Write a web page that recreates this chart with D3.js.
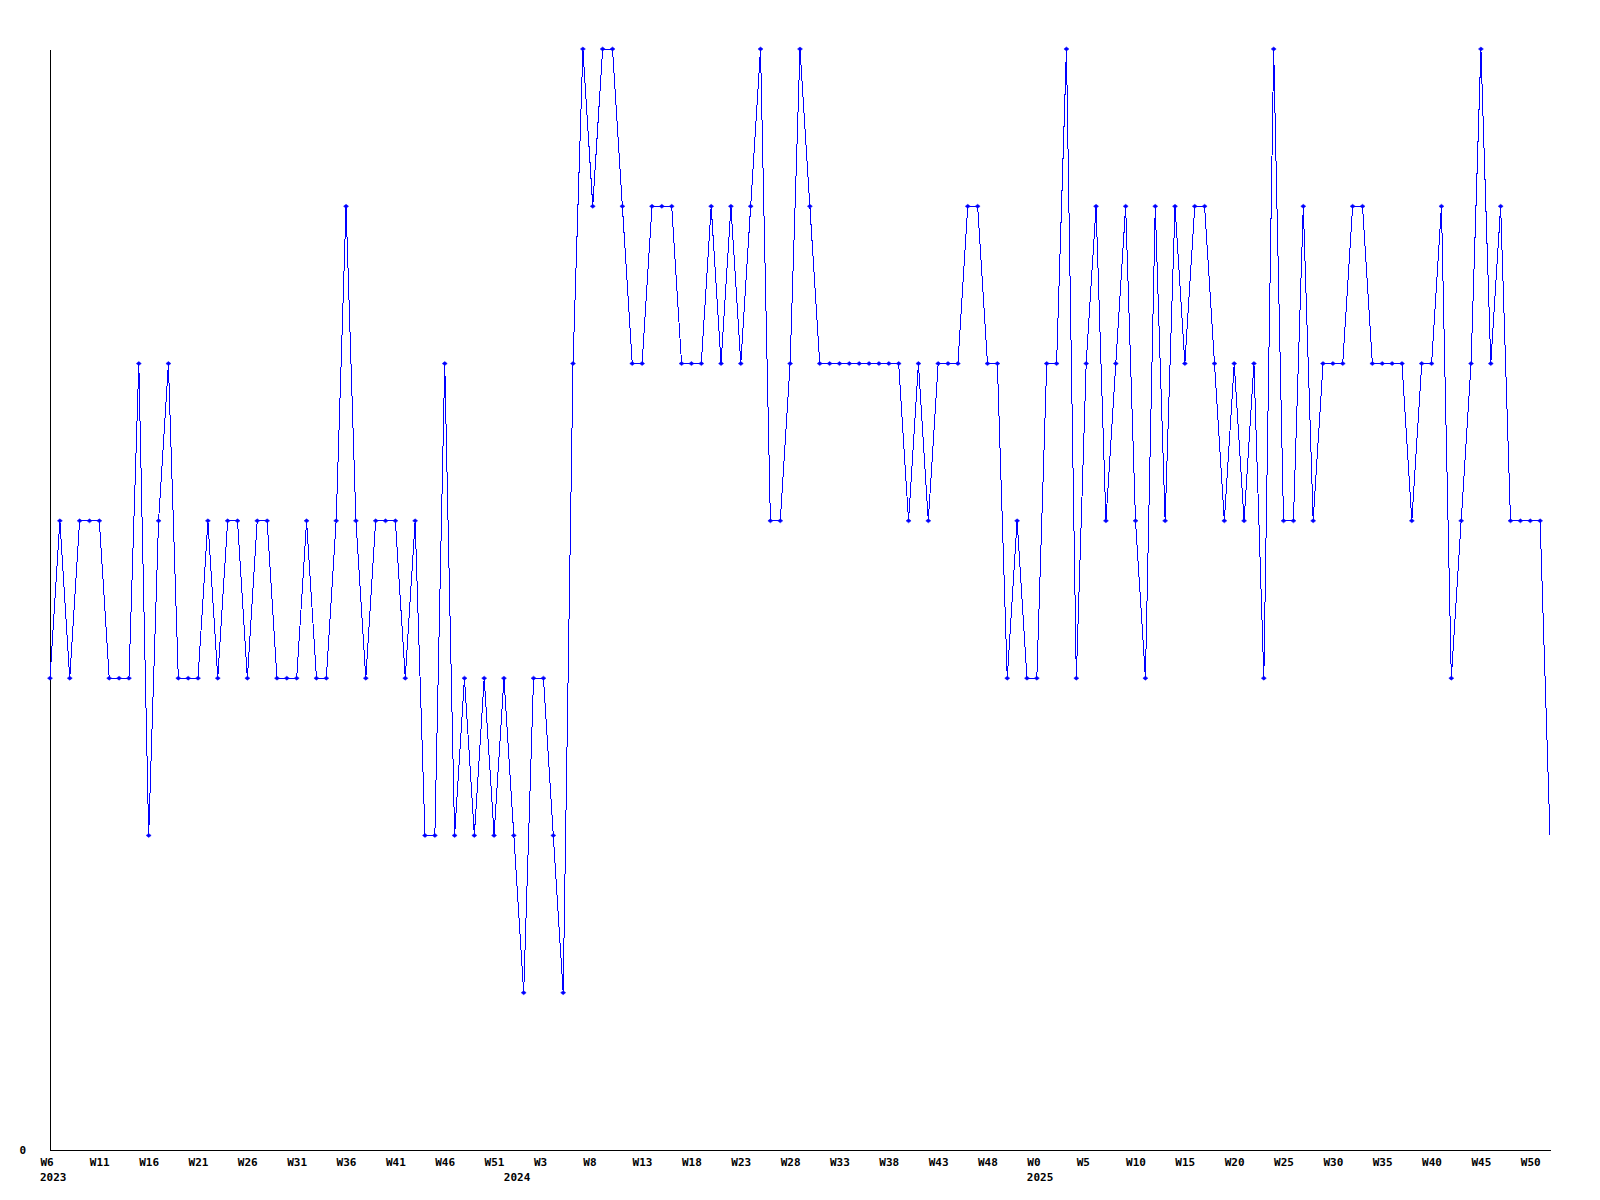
<!DOCTYPE html>
<html>
<head>
<meta charset="utf-8">
<script src="https://cdn.jsdelivr.net/npm/d3@7"></script>
<style>
  html, body { margin: 0; padding: 0; background: #fff; }
  svg { display: block; }
  .axis text { font-family: "DejaVu Sans Mono", monospace; font-weight: bold; font-size: 11px; fill: #000; }
</style>
</head>
<body>
<div id="chart"></div>
<script>
// weekly values, one array per year
const years = [2023, 2024, 2025];
const firstWeek = [6, 0, 0];
const values2023 = [3, 4, 3, 4, 4, 4, 3, 3, 3, 5, 2, 4, 5, 3, 3, 3, 4, 3, 4, 4,
  3, 4, 4, 3, 3, 3, 4, 3, 3, 4, 6, 4, 3, 4, 4, 4, 3, 4, 2, 2, 5, 2, 3, 2, 3, 2, 3];
const values2024 = [2, 1, 3, 3, 2, 1, 5, 7, 6, 7, 7, 6, 5, 5, 6, 6, 6, 5, 5, 5,
  6, 5, 6, 5, 6, 7, 4, 4, 5, 7, 6, 5, 5, 5, 5, 5, 5, 5, 5, 5, 4, 5, 4, 5, 5, 5,
  6, 6, 5, 5, 3, 4, 3];
const values2025 = [3, 5, 5, 7, 3, 5, 6, 4, 5, 6, 4, 3, 6, 4, 6, 5, 6, 6, 5, 4,
  5, 4, 5, 3, 7, 4, 4, 6, 4, 5, 5, 5, 6, 6, 5, 5, 5, 5, 4, 5, 5, 6, 3, 4, 5, 7,
  5, 6, 4, 4, 4, 4, 2];
const tickLabels = ["W6", "W11", "W16", "W21", "W26", "W31", "W36", "W41", "W46", "W51",
  "W3", "W8", "W13", "W18", "W23", "W28", "W33", "W38", "W43", "W48",
  "W0", "W5", "W10", "W15", "W20", "W25", "W30", "W35", "W40", "W45", "W50"];
const tickEvery = 5;
const yMax = 7;

const width = 1600, height = 1200;
const margin = { left: 50, right: 50, top: 49, bottom: 50 };

// flatten into one weekly table
const data = [];
[values2023, values2024, values2025].forEach((vals, yi) => {
  vals.forEach((v, wi) => {
    data.push({ year: years[yi], week: firstWeek[yi] + wi, value: v, i: data.length });
  });
});

const x = d3.scaleLinear()
  .domain([0, data.length - 1])
  .range([margin.left, width - margin.right]);
const y = d3.scaleLinear()
  .domain([0, yMax])
  .range([height - margin.bottom, margin.top]);

const svg = d3.select("#chart")
  .append("svg")
  .attr("width", width)
  .attr("height", height);

// y axis, only the zero label
const yAxis = svg.append("g")
  .attr("class", "axis")
  .attr("transform", `translate(${margin.left},0)`)
  .call(d3.axisLeft(y)
    .tickValues([0])
    .tickFormat(d3.format("d"))
    .tickSize(0)
    .tickSizeOuter(0)
    .tickPadding(24));
yAxis.select(".domain").attr("stroke", "#000").attr("shape-rendering", "crispEdges");
yAxis.selectAll("text").attr("dy", "0.36em");

// x axis with week labels every 5 weeks
const tickIdx = d3.range(0, data.length, tickEvery).slice(0, tickLabels.length);
const xAxis = svg.append("g")
  .attr("class", "axis")
  .attr("transform", `translate(0,${y(0)})`)
  .call(d3.axisBottom(x)
    .tickValues(tickIdx)
    .tickFormat((d, i) => tickLabels[i])
    .tickSize(0)
    .tickSizeOuter(0));
xAxis.select(".domain").attr("stroke", "#000").attr("shape-rendering", "crispEdges");
xAxis.selectAll(".tick text")
  .attr("text-anchor", "start")
  .attr("x", -10)
  .attr("y", 16)
  .attr("dy", 0);

// year labels under the first week of each year
const yearStarts = years.map(yr => data.find(d => d.year === yr));
xAxis.selectAll(".year")
  .data(yearStarts)
  .enter()
  .append("text")
  .attr("class", "year")
  .attr("text-anchor", "start")
  .attr("x", d => x(d.i) - 10)
  .attr("y", 31)
  .text(d => d.year);

const line = d3.line()
  .x(d => x(d.i))
  .y(d => y(d.value));

svg.append("path")
  .datum(data)
  .attr("fill", "none")
  .attr("stroke", "#0000ff")
  .attr("stroke-width", 1)
  .attr("shape-rendering", "crispEdges")
  .attr("d", line);

// small diamond markers, the last (partial) week has none
svg.append("g")
  .selectAll("path")
  .data(data.slice(0, -1))
  .enter()
  .append("path")
  .attr("transform", d => `translate(${x(d.i)},${y(d.value)})`)
  .attr("d", "M-2.5,0L0,-2L2.5,0L0,2Z")
  .attr("fill", "#0000ff")
  .attr("stroke", "#0000ff")
  .attr("stroke-width", 0.5);
</script>
</body>
</html>
